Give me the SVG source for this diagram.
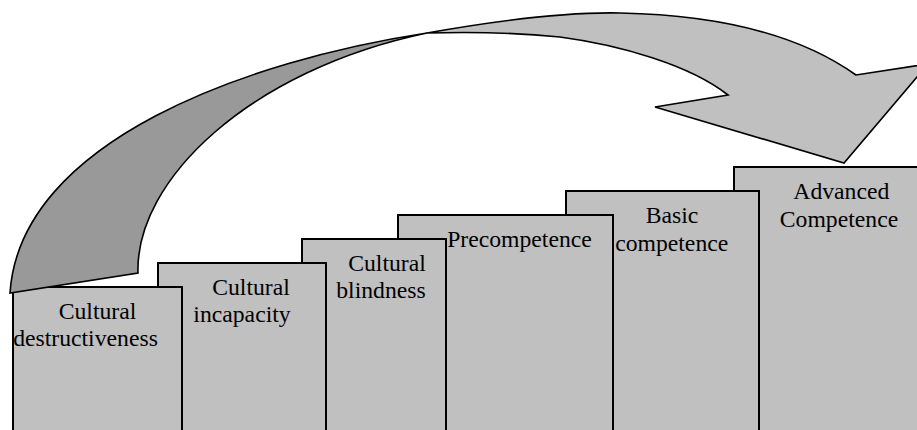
<svg xmlns="http://www.w3.org/2000/svg" width="917" height="430" viewBox="0 0 917 430">
<style>
.step{fill:#c0c0c0;stroke:#000;stroke-width:2}
.lbl{font-family:"Liberation Serif","Times New Roman",serif;font-size:23.7px;fill:#000;text-anchor:middle}
.arr{stroke:#000;stroke-width:1.6;stroke-linejoin:miter}
</style>
<rect width="917" height="430" fill="#fff"/>
<g id="step6"><rect class="step" x="734" y="167" width="200" height="280"/></g>
<g id="step5"><rect class="step" x="566" y="191" width="193" height="260"/></g>
<g id="step4"><rect class="step" x="398" y="215" width="215" height="240"/></g>
<g id="step3"><rect class="step" x="302" y="239" width="144" height="220"/></g>
<g id="step2"><rect class="step" x="158" y="263" width="168" height="200"/></g>
<g id="step1"><rect class="step" x="13" y="287" width="169" height="180"/></g>
<g id="connectors">
<path class="arr" fill="#999999" d="M427,33 C250,60 20,140 10,293 L138,273 C135,180 250,70 427,33 Z"/>
<path class="arr" fill="#c0c0c0" d="M427,33 C500,20 570,12 620,13 C720,15 800,35 856,75 L928,64 L844,163 L655,107 L728,95 C690,65 620,45 560,37 C510,32 460,32 427,33 Z"/>
</g>
<g id="labels">
<text class="lbl" x="97.5" y="319">Cultural</text>
<text class="lbl" x="85.5" y="346">destructiveness</text>
<text class="lbl" x="251" y="295">Cultural</text>
<text class="lbl" x="242" y="322">incapacity</text>
<text class="lbl" x="387" y="271">Cultural</text>
<text class="lbl" x="381" y="298">blindness</text>
<text class="lbl" x="519.5" y="247">Precompetence</text>
<text class="lbl" x="672" y="223">Basic</text>
<text class="lbl" x="671.7" y="251">competence</text>
<text class="lbl" x="841.3" y="199">Advanced</text>
<text class="lbl" x="839" y="227">Competence</text>
</g>
</svg>
